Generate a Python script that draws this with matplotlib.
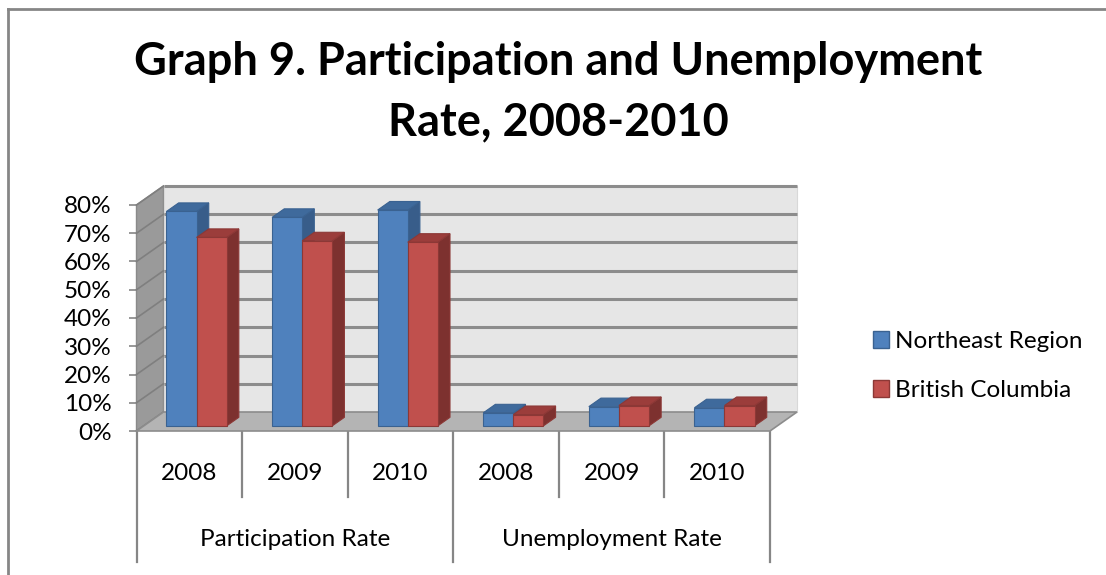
import matplotlib
matplotlib.use('Agg')
import matplotlib.pyplot as plt
from matplotlib.patches import Polygon, Patch
from matplotlib.lines import Line2D
from matplotlib.transforms import blended_transform_factory

plt.rcParams['font.family'] = ['Lato', 'DejaVu Sans']

years = ['2008', '2009', '2010', '2008', '2009', '2010']
groups = ['Participation Rate', 'Unemployment Rate']
northeast = [75.9, 73.8, 76.4, 4.6, 6.8, 6.4]
british_columbia = [66.7, 65.5, 65.0, 4.0, 7.2, 7.2]
series_names = ['Northeast Region', 'British Columbia']
y_ticks = [0, 10, 20, 30, 40, 50, 60, 70, 80]

# colours: front, side, top, edge
blue = ('#4f81bd', '#385d8a', '#3f6a9c', '#3a6291')
red = ('#c0504d', '#7d312f', '#9b3d3b', '#8c3836')

FS = 17.5

W, H = 1106, 575
fig = plt.figure(figsize=(W / 100, H / 100), dpi=100)
fig.patch.set_facecolor('white')

# front plane of the plot area in pixels
x_left, x_right = 136.5, 770.0
y_bottom, y_top = 431.0, 205.0
ax = fig.add_axes([x_left / W, 1 - y_bottom / H,
                   (x_right - x_left) / W, (y_bottom - y_top) / H])
n = len(years)
ax.set_xlim(0, n)
ax.set_ylim(0, 80)
ax.patch.set_visible(False)
for s in ax.spines.values():
    s.set_visible(False)

# oblique depth offset (in data units) for the full wall depth
ddx = 27.0 / ((x_right - x_left) / n)
ddy = 19.0 / ((y_bottom - y_top) / 80.0)

# left wall
ax.add_patch(Polygon([(0, 0), (0, 80), (ddx, 80 + ddy), (ddx, ddy)],
                     closed=True, facecolor='#9a9a9a', edgecolor='#8a8a8a',
                     lw=1, clip_on=False, zorder=1))
# back wall
ax.add_patch(Polygon([(ddx, ddy), (ddx, 80 + ddy), (n + ddx, 80 + ddy), (n + ddx, ddy)],
                     closed=True, facecolor='#e6e6e6', edgecolor='#d8d8d8',
                     lw=0.8, clip_on=False, zorder=1))
for v in y_ticks:
    ax.plot([0, ddx], [v, v + ddy], color='#7f7f7f', lw=1.2, clip_on=False, zorder=2)
    if v > 0:
        ax.plot([ddx, n + ddx], [v + ddy, v + ddy], color='#8c8c8c', lw=2.2,
                solid_capstyle='butt', clip_on=False, zorder=2)
# floor
ax.add_patch(Polygon([(0, 0), (n, 0), (n + ddx, ddy), (ddx, ddy)],
                     closed=True, facecolor='#b4b4b4', edgecolor='#8c8c8c',
                     lw=1.2, clip_on=False, zorder=3))

# 3-D bars
d0, d1 = 0.27, 0.72
bw = 0.285


def bar3d(x0, v, cols):
    front, side, top, edge = cols
    bx, by = d0 * ddx, d0 * ddy
    ox, oy = (d1 - d0) * ddx, (d1 - d0) * ddy
    xa, xb = x0 + bx, x0 + bx + bw
    yb, yt = by, by + v
    kw = dict(closed=True, edgecolor=edge, lw=0.8, clip_on=False, zorder=5)
    ax.add_patch(Polygon([(xb, yb), (xb, yt), (xb + ox, yt + oy), (xb + ox, yb + oy)],
                         facecolor=side, **kw))
    ax.add_patch(Polygon([(xa, yt), (xb, yt), (xb + ox, yt + oy), (xa + ox, yt + oy)],
                         facecolor=top, **kw))
    ax.add_patch(Polygon([(xa, yb), (xb, yb), (xb, yt), (xa, yt)],
                         facecolor=front, **kw))


for i in range(n):
    c = i + 0.5
    bar3d(c - bw, northeast[i], blue)
    bar3d(c, british_columbia[i], red)

# value axis
ax.set_yticks(y_ticks)
ax.set_yticklabels(['%d%%' % v for v in y_ticks], fontsize=FS)
ax.tick_params(axis='y', direction='out', length=6, color='#868686', width=1.2, pad=12)
ax.set_xticks([])

# category axis: year labels, group labels and separators
tr = blended_transform_factory(ax.transData, fig.transFigure)
for i in range(n + 1):
    y_end = 562 if i % 3 == 0 else 497
    ax.add_line(Line2D([i, i], [1 - 431 / H, 1 - y_end / H], transform=tr,
                       color='#868686', lw=1.6, clip_on=False))
for i, yr in enumerate(years):
    ax.text(i + 0.5, 1 - 474 / H, yr, transform=tr, ha='center', va='center', fontsize=FS)
for g, name in enumerate(groups):
    ax.text(3 * g + 1.5, 1 - 540 / H, name, transform=tr, ha='center', va='center', fontsize=FS)

# legend
handles = [Patch(facecolor=blue[0], edgecolor=blue[3]),
           Patch(facecolor=red[0], edgecolor=red[3])]
fig.legend(handles, series_names, loc='center left',
           bbox_to_anchor=(851 / W, 1 - 366 / H), frameon=False, fontsize=FS,
           handlelength=0.65, handleheight=0.65, handletextpad=0.25, labelspacing=1.15)

# title
fig.text(558 / W, 1 - 92 / H, 'Graph 9. Participation and Unemployment\nRate, 2008-2010',
         ha='center', va='center', fontsize=32.5, fontweight='bold', linespacing=1.55)

# chart border (left and top edges)
fig.add_artist(Line2D([8 / W, 8 / W], [0, 1 - 9 / H], transform=fig.transFigure,
                      color='#868686', lw=2))
fig.add_artist(Line2D([8 / W, 1], [1 - 9 / H, 1 - 9 / H], transform=fig.transFigure,
                      color='#868686', lw=2))

fig.savefig('out.png', dpi=100)
